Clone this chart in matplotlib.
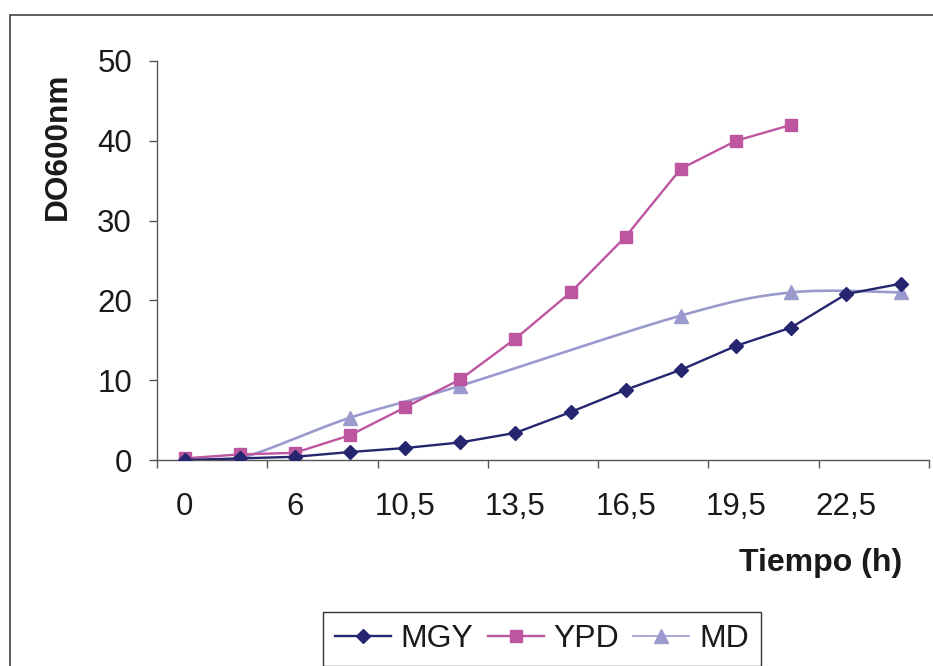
import numpy as np
import matplotlib
matplotlib.use("Agg")
import matplotlib.pyplot as plt
from matplotlib.patches import Rectangle

plt.rcParams['font.family'] = ['Liberation Sans', 'DejaVu Sans']

# categorias de tiempo (h) del eje X
tiempos = ["0", "3", "6", "9", "10,5", "12", "13,5", "15", "16,5", "18", "19,5", "21", "22,5", "24"]
etiquetas_x = ["0", "6", "10,5", "13,5", "16,5", "19,5", "22,5"]

mgy = [0.0, 0.2, 0.4, 1.0, 1.5, 2.2, 3.4, 6.0, 8.8, 11.3, 14.3, 16.6, 20.8, 22.1]
ypd = [0.2, 0.7, 0.9, 3.1, 6.6, 10.1, 15.2, 21.0, 28.0, 36.5, 40.0, 42.0]
md_idx = [0, 1, 3, 5, 9, 11, 13]
md = [0.0, 0.2, 5.3, 9.3, 18.1, 21.0, 21.0]

c_mgy = '#25266F'
c_ypd = '#BD55A0'
c_md = '#9A9ACE'


def suavizar(xs, ys, n=30):
    # curva suave tipo Excel (bezier con tangentes de los vecinos)
    p = np.column_stack([xs, ys]).astype(float)
    out = [p[0]]
    for i in range(len(p) - 1):
        p0 = p[i - 1] if i > 0 else p[i]
        p1, p2 = p[i], p[i + 1]
        p3 = p[i + 2] if i + 2 < len(p) else p[i + 1]
        c1 = p1 + (p2 - p0) / 6.0
        c2 = p2 - (p3 - p1) / 6.0
        t = np.linspace(0, 1, n)[1:, None]
        seg = ((1 - t) ** 3) * p1 + 3 * ((1 - t) ** 2) * t * c1 + 3 * (1 - t) * t ** 2 * c2 + t ** 3 * p2
        out.extend(seg)
    out = np.array(out)
    return out[:, 0], out[:, 1]


fig = plt.figure(figsize=(9.33, 6.66), dpi=100)
W, H = 933, 666
ax = fig.add_axes([157 / W, 1 - 460 / H, (929 - 157) / W, (460 - 61) / H])

x = np.arange(len(tiempos))
ax.plot(x, mgy, color=c_mgy, lw=1.7, marker='D', ms=7.2, mfc=c_mgy, mec=c_mgy, label='MGY', zorder=4)
ax.plot(x[:len(ypd)], ypd, color=c_ypd, lw=1.7, marker='s', ms=8.6, mfc=c_ypd, mec=c_ypd, label='YPD', zorder=3)
sx, sy = suavizar(md_idx, md)
ax.plot(sx, sy, color=c_md, lw=1.9, zorder=2)
ax.plot(md_idx, md, ls='none', marker='^', ms=9.5, mfc=c_md, mec=c_md, zorder=2)
ax.plot([], [], color=c_md, lw=1.2, marker='^', ms=9.5, mfc=c_md, mec=c_md, label='MD')

ax.set_xlim(-0.5, len(tiempos) - 0.5)
ax.set_ylim(0, 50)
ax.set_yticks([0, 10, 20, 30, 40, 50])
ax.set_xticks(np.arange(-0.5, len(tiempos), 2))
ax.set_xticklabels([])
ax.set_xticks(np.arange(0, len(tiempos), 2), minor=True)
ax.set_xticklabels(etiquetas_x, minor=True)

for s in ['top', 'right']:
    ax.spines[s].set_visible(False)
for s in ['left', 'bottom']:
    ax.spines[s].set_color('#555555')
    ax.spines[s].set_linewidth(1.0)

ax.tick_params(axis='y', direction='out', length=6, width=1, color='#555555', labelsize=22.5, pad=12, labelcolor='#1a1a1a')
ax.tick_params(axis='x', which='major', direction='out', length=6, width=1, color='#555555')
ax.tick_params(axis='x', which='minor', length=0, labelsize=22.5, pad=23, labelcolor='#1a1a1a')

fig.text(821 / W, 1 - 563 / H, 'Tiempo (h)', fontsize=23, fontweight='bold', ha='center', va='center', color='#1a1a1a')
fig.text(58 / W, 1 - 146 / H, 'DO600nm', fontsize=22.8, fontweight='bold', rotation=90, ha='center', va='center', color='#1a1a1a')

leg = ax.legend(loc='center', bbox_to_anchor=(542 / W, 1 - 639 / H), bbox_transform=fig.transFigure,
                ncol=3, fontsize=23, fancybox=False, framealpha=1, edgecolor='#333333',
                handlelength=1.75, handletextpad=0.3, columnspacing=0.45, borderpad=0.37, borderaxespad=0)
leg.get_frame().set_linewidth(1.0)
for t in leg.get_texts():
    t.set_color('#1a1a1a')

# marco exterior del grafico
fig.patches.append(Rectangle((10 / W, -0.05), 1.0, 1 - 15 / H + 0.05, transform=fig.transFigure,
                             fill=False, edgecolor='#444444', lw=1.2))

fig.savefig('out.png', dpi=100)
